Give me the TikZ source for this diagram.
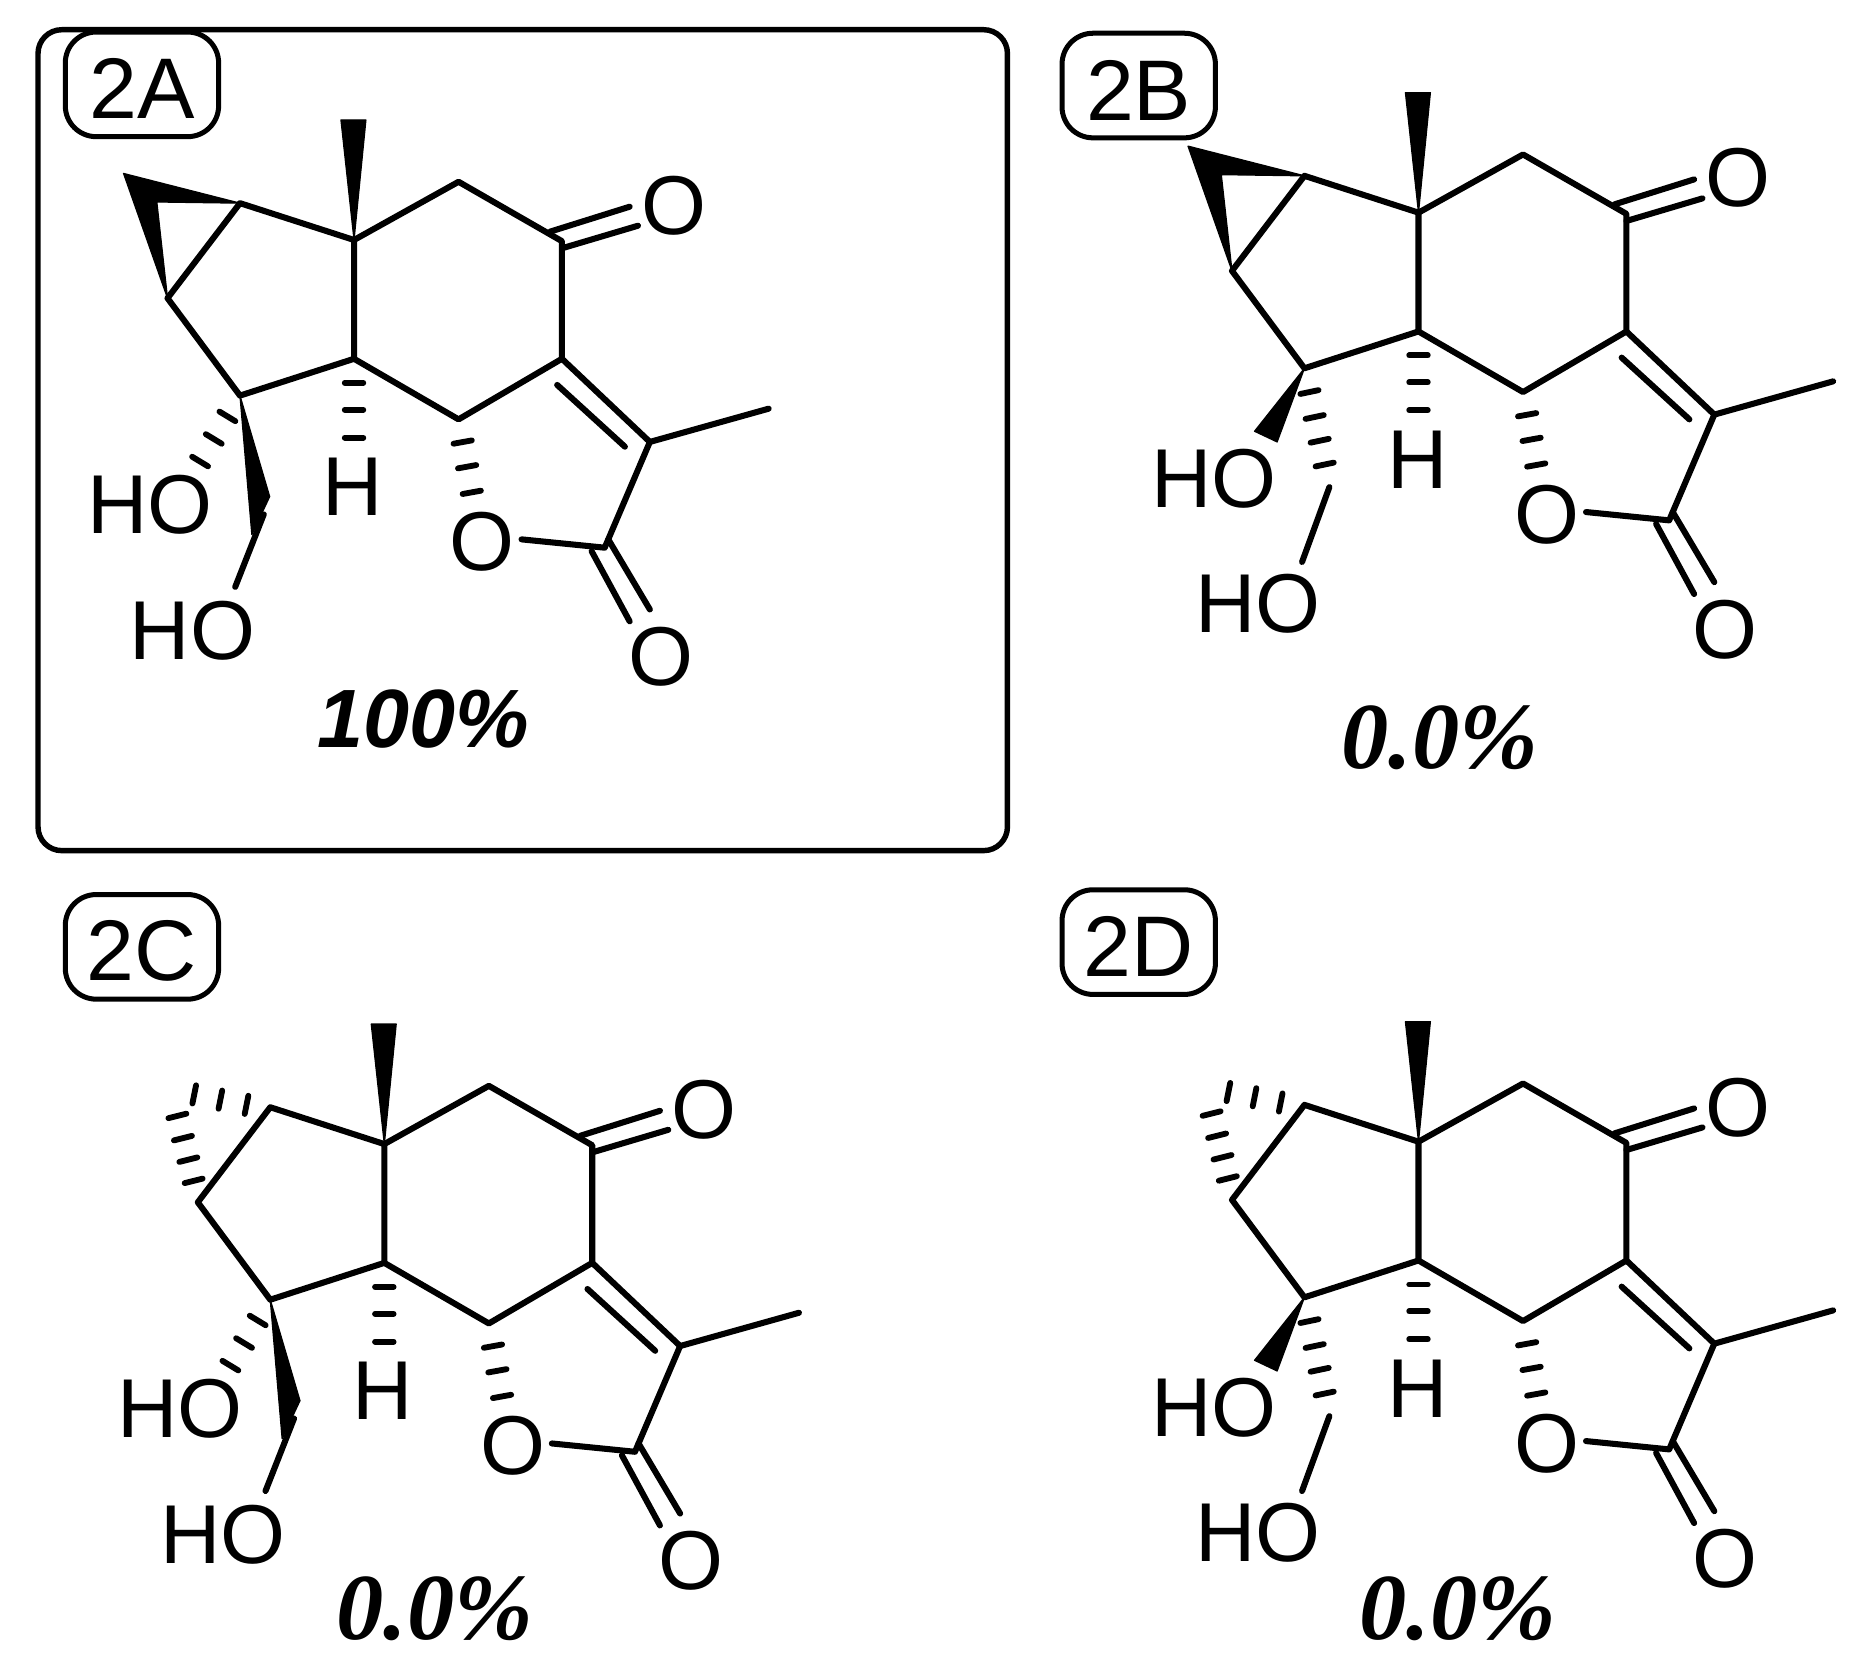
\documentclass[tikz,border=0pt]{standalone}
\usepackage{fontspec}
\usepackage{tikz}
\usetikzlibrary{calc}
\setmainfont{Liberation Sans}
\newfontfamily\pctfont{Liberation Serif}
\tikzset{
  bond/.style={draw=black, line width=1.45pt, line cap=round, line join=round},
  hash/.style={draw=black, line width=1.4pt, line cap=round},
  wedge/.style={fill=black, draw=black, line width=0.3pt, line join=round},
  atom/.style={inner sep=0pt, font=\fontsize{20}{20}\selectfont},
  tag/.style={draw=black, line width=1.2pt, rounded corners=0.26cm, minimum width=1.29cm, minimum height=0.88cm, inner sep=0pt, text height=0.58cm, font=\fontsize{20.6}{20}\selectfont},
  frame/.style={draw=black, line width=1.3pt, rounded corners=0.2cm},
  yieldA/.style={inner sep=0pt, font=\fontsize{19.8}{19}\selectfont\bfseries\itshape},
  yieldB/.style={inner sep=0pt, font=\fontsize{22.6}{22}\pctfont\bfseries\itshape},
}
% hashed bond: #1 to #2, strokes at the fractions #3
\newcommand{\hashbond}[3]{
  \foreach \t in {#3}
    \draw[hash] ($(#1)!\t!(#2)!0.078cm!90:(#2)$) -- ($(#1)!\t!(#2)!0.078cm!-90:(#2)$);
}
% rings shared by all four
\newcommand{\lactonecore}[1]{
  \coordinate (#1C1) at (297,201);
  \coordinate (#1C2) at (385,152);
  \coordinate (#1C3) at (472,202);
  \coordinate (#1C4) at (472,301);
  \coordinate (#1C5) at (385,352);
  \coordinate (#1C6) at (297,301);
  \coordinate (#1C7) at (201,332);
  \coordinate (#1C8) at (140,250);
  \coordinate (#1C9) at (201,170);
  \coordinate (#1C10) at (546,371);
  \coordinate (#1C11) at (508,460);
  \coordinate (#1Me) at (646,343);
  \coordinate (#1Ha) at (297,385);
  \coordinate (#1Oa) at (400,435);
  \coordinate (#1In1) at (468,323);
  \coordinate (#1In2) at (525,375);
  \coordinate (#1K1) at (462,194);
  \coordinate (#1K2) at (529,173);
  \coordinate (#1K3) at (472,208);
  \coordinate (#1K4) at (536,189);
  \coordinate (#1L1) at (511,453);
  \coordinate (#1L2) at (546,512);
  \coordinate (#1L3) at (497,463);
  \coordinate (#1L4) at (529,522);
  \coordinate (#1Re) at (438,453);
  \coordinate (#1Mw1) at (286,100);
  \coordinate (#1Mw2) at (307,100);
  \node[atom] (#1Oket) at (566,172) {O};
  \node[atom] (#1Orng) at (405,455) {O};
  \node[atom] (#1Oexo) at (555,552) {O};
  \node[atom] (#1H) at (296,409) {H};
  \fill[wedge] (#1Mw1) -- (#1Mw2) -- (#1C1) -- cycle;
  \draw[bond] (#1C1) -- (#1C2) -- (#1C3) -- (#1C4) -- (#1C5) -- (#1C6) -- cycle;
  \draw[bond] (#1C1) -- (#1C9) -- (#1C8) -- (#1C7) -- (#1C6);
  \draw[bond] (#1C4) -- (#1C10) -- (#1C11) -- (#1Re);
  \draw[bond] (#1C10) -- (#1Me);
  \draw[bond] (#1In1) -- (#1In2);
  \draw[bond] (#1K1) -- (#1K2);
  \draw[bond] (#1K3) -- (#1K4);
  \draw[bond] (#1L1) -- (#1L2);
  \draw[bond] (#1L3) -- (#1L4);
  \hashbond{#1C6}{#1Ha}{0.24,0.51,0.79}
  \hashbond{#1C5}{#1Oa}{0.23,0.48,0.74}
}
\newcommand{\cyclowedge}[1]{
  \coordinate (#1Ap) at (103,145);
  \coordinate (#1Apin) at (131,169);
  \fill[wedge] (#1C9) -- (#1Ap) -- (#1C8) -- (#1Apin) -- cycle;
}
\newcommand{\cyclohash}[1]{
  \coordinate (#1T0) at (201,172);
  \coordinate (#1T1) at (121,156);
  \coordinate (#1S0) at (141,250);
  \coordinate (#1S1) at (118,158);
  \hashbond{#1T0}{#1T1}{0.25,0.525,0.8}
  \hashbond{#1S0}{#1S1}{0.196,0.39,0.587,0.79}
}
% CH2OH up, OH down
\newcommand{\carbinolup}[1]{
  \coordinate (#1Hx) at (155,408);
  \coordinate (#1W1) at (226,417);
  \coordinate (#1W2) at (211,449);
  \coordinate (#1Ch) at (221,432);
  \coordinate (#1Cz) at (197,493);
  \node[atom] (#1HOa) at (125,424) {HO};
  \node[atom] (#1HOb) at (161,530) {HO};
  \hashbond{#1C7}{#1Hx}{0.23,0.48,0.73}
  \fill[wedge] (#1C7) -- (#1W1) -- (#1W2) -- cycle;
  \draw[bond] (#1Ch) -- (#1Cz);
}
% OH up, CH2OH down
\newcommand{\carbinoldown}[1]{
  \coordinate (#1Hx) at (222,432);
  \coordinate (#1W1) at (159,385);
  \coordinate (#1W2) at (178,394);
  \coordinate (#1Cz) at (199,495);
  \node[atom] (#1HOa) at (125,425) {HO};
  \node[atom] (#1HOb) at (162,530) {HO};
  \hashbond{#1C7}{#1Hx}{0.2,0.41,0.61,0.81}
  \fill[wedge] (#1C7) -- (#1W1) -- (#1W2) -- cycle;
  \draw[bond] (#1Hx) -- (#1Cz);
}
\begin{document}
\begin{tikzpicture}[x=0.01cm,y=-0.01cm]
  \useasboundingbox (0,0) rectangle (1569,1403);
  \draw[frame] (32,25) rectangle (848,716);

  \node[tag] (tagA) at (119.5,71) {2A};
  \node[tag] (tagB) at (958.5,72) {2B};
  \node[tag] (tagC) at (119.5,797) {2C};
  \node[tag] (tagD) at (958.5,793) {2D};

  \begin{scope}[shift={(1,1)}]
    \lactonecore{A}
    \cyclowedge{A}
    \carbinolup{A}
  \end{scope}
  \begin{scope}[shift={(897,-22)}]
    \lactonecore{B}
    \cyclowedge{B}
    \carbinoldown{B}
  \end{scope}
  \begin{scope}[shift={(26.5,762)}]
    \lactonecore{C}
    \cyclohash{C}
    \carbinolup{C}
  \end{scope}
  \begin{scope}[shift={(897,760)}]
    \lactonecore{D}
    \cyclohash{D}
    \carbinoldown{D}
  \end{scope}

  \node[yieldA] (pctA) at (356,605) {100\%};
  \node[yieldB] (pctB) at (1212,621) {0.0\%};
  \node[yieldB] (pctC) at (366,1354) {0.0\%};
  \node[yieldB] (pctD) at (1227,1354) {0.0\%};
\end{tikzpicture}
\end{document}
